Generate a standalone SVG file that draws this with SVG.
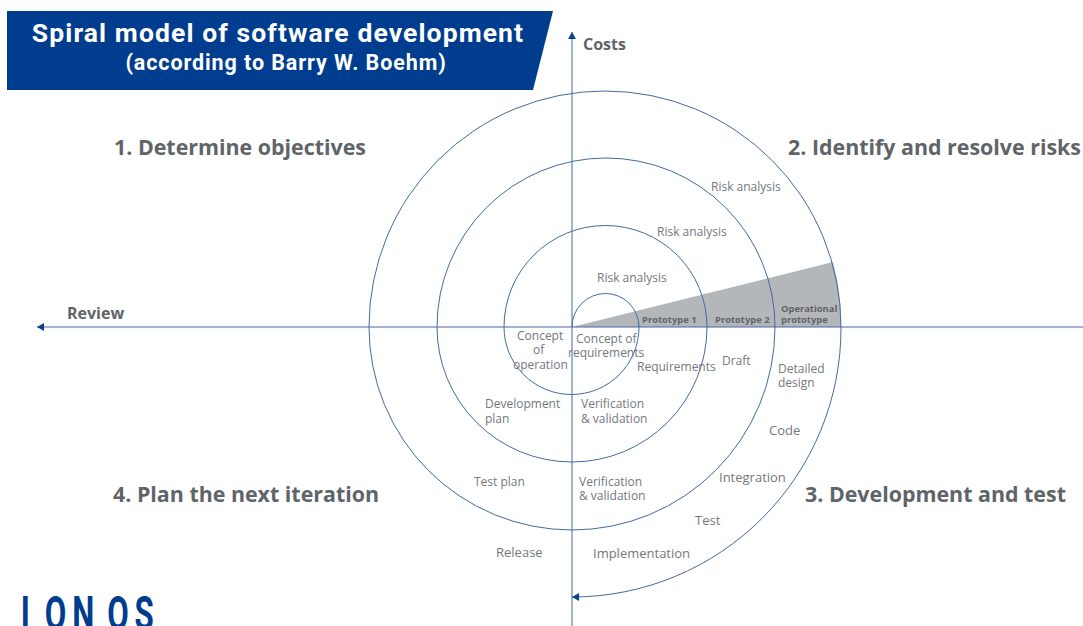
<svg xmlns="http://www.w3.org/2000/svg" width="1083" height="626" viewBox="0 0 1083 626">
<style>
.l{font-family:"Open Sans","Noto Sans",sans-serif;font-size:12px;fill:#73787c}
.m{font-size:13px}
.b{font-family:"Open Sans","Noto Sans",sans-serif;font-weight:700;fill:#5f6468}
.h{font-size:21.4px}
.p{font-family:"Open Sans","Noto Sans",sans-serif;font-weight:700;font-size:9.4px;fill:#5f6468}
.t{font-family:Roboto,"Liberation Sans",sans-serif;font-weight:700;fill:#fff;text-anchor:middle}
.c{fill:none;stroke:#46699f;stroke-width:1}
</style>
<defs>
<marker id="a" markerWidth="9" markerHeight="8" refX="7" refY="4" orient="auto" markerUnits="userSpaceOnUse"><path d="M0 0L7 4L0 8Z" fill="#0b3f8c"/></marker>
</defs>
<g id="title">
<path d="M7 11H553L533 90H7Z" fill="#003d8f"/>
<text class="t" x="278" y="42" font-size="26.5" letter-spacing="1.1">Spiral model of software development</text>
<text class="t" x="286" y="70" font-size="21.5" letter-spacing=".9">(according to Barry W. Boehm)</text>
</g>
<g id="wedge"><path d="M572 327L833 262A236 236 0 0 1 841 327Z" fill="#b4b7ba"/></g>
<g id="connectors">
<path class="c" marker-end="url(#a)" d="M572 626V32"/>
<path class="c" marker-end="url(#a)" d="M1083 327H37"/>
<path class="c" marker-end="url(#a)" d="M572 327A33.5 33.5 0 0 1 639 327A67 67 0 0 1 504 327A101.5 101.5 0 0 1 707 327A135 135 0 0 1 437 327A169 169 0 0 1 775 327A203 203 0 0 1 369 327A236 236 0 0 1 841 327A269 269 0 0 1 572 597"/>
</g>
<g id="axis-labels">
<text class="b" x="583" y="50" font-size="16">Costs</text>
<text class="b" x="67" y="319" font-size="16">Review</text>
</g>
<g id="quadrants">
<text class="b h" x="114" y="155">1. Determine objectives</text>
<text class="b h" x="788" y="155">2. Identify and resolve risks</text>
<text class="b h" x="805" y="502">3. Development and test</text>
<text class="b h" x="113" y="502">4. Plan the next iteration</text>
</g>
<g id="labels">
<text class="l" x="711" y="191">Risk analysis</text>
<text class="l" x="657" y="236">Risk analysis</text>
<text class="l" x="597" y="282">Risk analysis</text>
<text class="p" x="642" y="323">Prototype 1</text>
<text class="p" x="715" y="323">Prototype 2</text>
<text class="p" x="781" y="312">Operational</text>
<text class="p" x="781" y="323">prototype</text>
<text class="l" x="517" y="340">Concept</text>
<text class="l" x="533" y="354">of</text>
<text class="l" x="513" y="369">operation</text>
<text class="l" x="576" y="343">Concept of</text>
<text class="l" x="568" y="357">requirements</text>
<text class="l" x="637" y="371">Requirements</text>
<text class="l" x="722" y="365">Draft</text>
<text class="l" x="778" y="373">Detailed</text>
<text class="l" x="778" y="387">design</text>
<text class="l" x="485" y="408">Development</text>
<text class="l" x="485" y="423">plan</text>
<text class="l" x="581" y="408">Verification</text>
<text class="l" x="581" y="423">&amp; validation</text>
<text class="l m" x="769" y="435">Code</text>
<text class="l m" x="719" y="482">Integration</text>
<text class="l" x="474" y="486">Test plan</text>
<text class="l" x="579" y="486">Verification</text>
<text class="l" x="579" y="500">&amp; validation</text>
<text class="l m" x="695" y="525">Test</text>
<text class="l m" x="496" y="557">Release</text>
<text class="l m" x="593" y="558">Implementation</text>
</g>
<g id="logo">
<text transform="scale(.65 1)" y="630" x="32 69 111 165 207" font-family="Roboto,'Liberation Sans',sans-serif" font-weight="700" font-size="48" fill="#003d8f">IONOS</text>
</g>
</svg>
